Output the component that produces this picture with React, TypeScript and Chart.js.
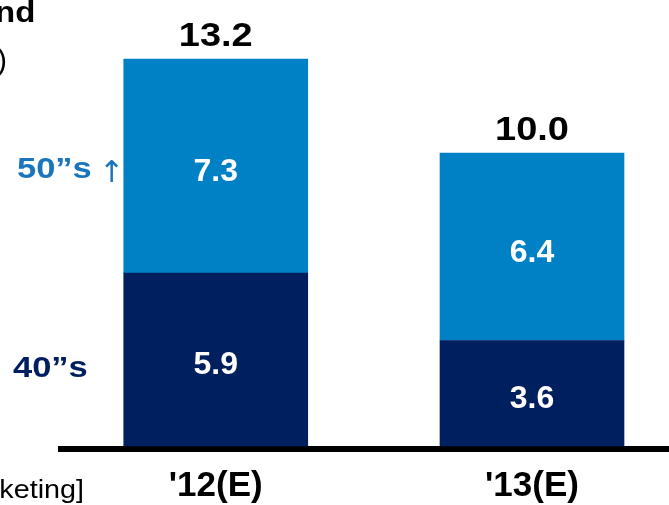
import React, { useEffect, useRef } from "react";
import { Chart, registerables } from "chart.js";

Chart.register(...registerables);

const categories = ["'12(E)", "'13(E)"];
const series40s = [5.9, 3.6];
const series50s = [7.3, 6.4];
const totals = [13.2, 10.0];
const seriesNames = ["40”s", "50”s ↑"];

const NAVY = "#001F5F";
const LIGHT = "#0081C6";
const SIDE_BLUE = "#1B75BC";
const FONT = '"Liberation Sans", Arial, sans-serif';

function stretchText(ctx: any, text: string, x: number, y: number, sx: number, align: string) {
  ctx.save();
  ctx.translate(x, y);
  ctx.scale(sx, 1);
  ctx.textAlign = align;
  ctx.fillText(text, 0, 0);
  ctx.restore();
}

const labelPlugin = {
  id: "labels",
  afterDatasetsDraw(chart: any) {
    const ctx = chart.ctx;
    ctx.save();
    ctx.textAlign = "center";
    ctx.textBaseline = "middle";
    const m0 = chart.getDatasetMeta(0);
    const m1 = chart.getDatasetMeta(1);
    const ys = chart.scales.y;
    [m0, m1].forEach((meta: any, di: number) => {
      const vals = di === 0 ? series40s : series50s;
      meta.data.forEach((bar: any, i: number) => {
        const cy = (bar.y + bar.base) / 2 + 6;
        ctx.fillStyle = "#ffffff";
        ctx.font = `bold 32px ${FONT}`;
        ctx.fillText(vals[i].toFixed(1), bar.x, cy);
      });
    });
    ctx.textBaseline = "alphabetic";
    m1.data.forEach((bar: any, i: number) => {
      ctx.fillStyle = "#000000";
      ctx.font = `bold 33px ${FONT}`;
      stretchText(ctx, totals[i].toFixed(1), bar.x, ys.getPixelForValue(totals[i]) - 13, 1.15, "center");
    });
    const b0 = m0.data[0];
    const b1 = m1.data[0];
    // side series labels
    const [name50, arrow] = seriesNames[1].split(" ");
    const y50 = (b1.y + b1.base) / 2 + 12;
    ctx.font = `bold 30px ${FONT}`;
    ctx.fillStyle = SIDE_BLUE;
    stretchText(ctx, name50, 17, y50, 1.15, "left");
    ctx.font = `30px "DejaVu Sans", sans-serif`;
    ctx.textAlign = "left";
    ctx.fillText(arrow, 99, y50 + 4);
    ctx.font = `bold 30px ${FONT}`;
    ctx.fillStyle = NAVY;
    stretchText(ctx, seriesNames[0], 13, (b0.y + b0.base) / 2 + 17, 1.15, "left");
    // cropped surrounding text
    ctx.fillStyle = "#000000";
    ctx.font = `bold 30px ${FONT}`;
    stretchText(ctx, "nd", -5, 22, 1.1, "left");
    ctx.font = `30px ${FONT}`;
    ctx.textAlign = "left";
    ctx.fillText(")", -3, 70);
    ctx.font = `25px ${FONT}`;
    stretchText(ctx, "keting]", 84, 498, 1.15, "right");
    ctx.restore();
  },
};

export default function App() {
  const ref = useRef<HTMLCanvasElement>(null);
  useEffect(() => {
    if (!ref.current) return;
    const chart = new Chart(ref.current, {
      type: "bar",
      data: {
        datasets: [
          {
            label: seriesNames[0],
            data: series40s.map((v, i) => ({ x: i, y: v })),
            backgroundColor: NAVY,
            barThickness: 184,
          },
          {
            label: seriesNames[1],
            data: series50s.map((v, i) => ({ x: i, y: v })),
            backgroundColor: LIGHT,
            barThickness: 184,
          },
        ],
      },
      options: {
        responsive: false,
        animation: false,
        layout: { padding: { left: 61, right: 0, top: 0, bottom: 0 } },
        plugins: { legend: { display: false }, tooltip: { enabled: false } },
        scales: {
          x: {
            type: "linear",
            offset: false,
            stacked: true,
            min: -0.4893,
            max: 1.4332,
            grid: { display: false, drawTicks: false, offset: false },
            border: { display: true, color: "#000000", width: 6 },
            afterBuildTicks: (scale: any) => {
              scale.ticks = categories.map((_, i) => ({ value: i }));
            },
            afterFit: (scale: any) => {
              scale.height = 56;
            },
            ticks: {
              padding: 16,
              color: "#000000",
              font: { family: FONT, size: 35, weight: "bold" },
              callback: (v: any) => categories[v] ?? "",
            },
          },
          y: {
            display: false,
            stacked: true,
            min: -0.1024,
            max: 15.22,
          },
        },
      },
      plugins: [labelPlugin],
    } as any);
    return () => chart.destroy();
  }, []);
  return (
    <div style={{ position: "absolute", left: 0, top: 0, width: 669, height: 505 }}>
      <canvas ref={ref} width={669} height={505} />
    </div>
  );
}
